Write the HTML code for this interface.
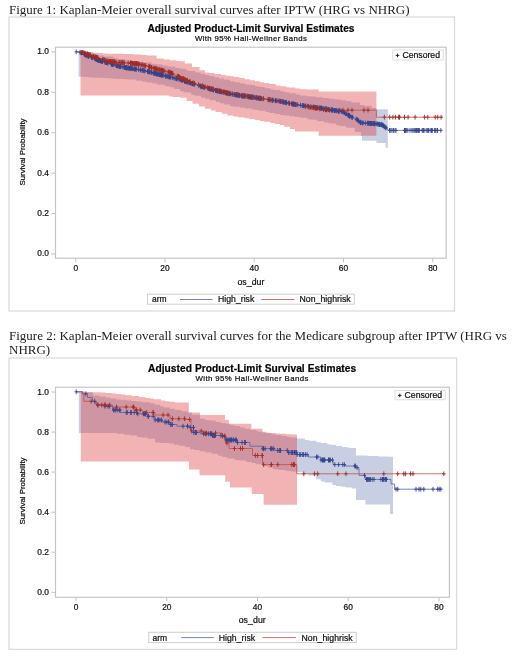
<!DOCTYPE html>
<html><head><meta charset="utf-8"><title>Kaplan-Meier figures</title>
<style>html,body{margin:0;padding:0;background:#fff}svg{display:block}.ch text{stroke:#111;stroke-width:0.22px}</style></head>
<body>
<svg width="520" height="659" viewBox="0 0 520 659">
<rect width="520" height="659" fill="#fff"/>
<text x="9" y="13.8" font-family='"Liberation Serif", "Times New Roman", serif' font-size="13" fill="#222" textLength="400.5" lengthAdjust="spacing">Figure 1: Kaplan-Meier overall survival curves after IPTW (HRG vs NHRG)</text>
<g class="ch"><rect x="9.0" y="17.0" width="445.5" height="294.0" fill="#fff" stroke="#dcdcdc" stroke-width="1.3"/>
<text x="147.5" y="32.0" font-family='"Liberation Sans", Arial, sans-serif' font-weight="bold" font-size="10.2" textLength="207.0" lengthAdjust="spacing" fill="#000">Adjusted Product-Limit Survival Estimates</text>
<text x="195.0" y="41.2" font-family='"Liberation Sans", Arial, sans-serif' font-size="7.8" textLength="111.8" lengthAdjust="spacing" fill="#111">With 95% Hall-Wellner Bands</text>
<clipPath id="c1"><rect x="55.5" y="47.2" width="390.6" height="211.0"/></clipPath>
<g clip-path="url(#c1)">
<polygon points="78.6,51.8 82.3,51.8 82.3,52.5 88.1,52.5 88.1,53.5 92.6,53.5 92.6,54.4 98.8,54.4 98.8,55.5 104.0,55.5 104.0,56.4 113.4,56.4 113.4,58.2 118.0,58.2 118.0,59.0 124.8,59.0 124.8,60.0 132.5,60.0 132.5,61.1 137.3,61.1 137.3,61.8 143.2,61.8 143.2,62.6 151.5,62.6 151.5,63.8 156.5,63.8 156.5,64.5 162.2,64.5 162.2,65.5 167.4,65.5 167.4,66.5 175.1,66.5 175.1,67.9 180.0,67.9 180.0,68.8 186.3,68.8 186.3,70.4 188.8,70.4 188.8,71.0 195.3,71.0 195.3,72.6 200.4,72.6 200.4,73.8 205.0,73.8 205.0,75.0 209.2,75.0 209.2,76.0 214.6,76.0 214.6,77.4 218.9,77.4 218.9,78.5 224.1,78.5 224.1,79.8 230.0,79.8 230.0,81.3 234.3,81.3 234.3,82.2 240.3,82.2 240.3,83.4 245.5,83.4 245.5,84.4 249.1,84.4 249.1,85.1 255.0,85.1 255.0,86.3 258.5,86.3 258.5,87.0 264.5,87.0 264.5,88.2 270.5,88.2 270.5,89.4 274.1,89.4 274.1,90.1 280.0,90.1 280.0,91.3 284.4,91.3 284.4,92.2 289.1,92.2 289.1,93.2 295.9,93.2 295.9,94.6 300.0,94.6 300.0,95.5 305.9,95.5 305.9,96.2 310.0,96.2 310.0,96.6 315.9,96.6 315.9,97.3 322.7,97.3 322.7,98.1 328.8,98.1 328.8,98.8 334.7,98.8 334.7,99.6 340.7,99.6 340.7,100.3 346.0,100.3 346.0,101.0 351.3,101.0 351.3,102.5 360.0,102.5 360.0,105.0 364.4,105.0 364.4,106.1 371.6,106.1 371.6,108.0 376.4,108.0 376.4,109.3 387.8,109.3 387.8,147.8 385.5,147.8 385.5,143.0 376.4,143.0 376.4,140.8 362.0,140.8 362.0,136.0 361.0,136.0 361.0,132.0 354.8,132.0 354.8,127.7 346.0,127.7 346.0,126.0 339.2,126.0 339.2,125.2 336.1,125.2 336.1,123.4 328.8,123.4 328.8,122.5 324.1,122.5 324.1,121.2 317.2,121.2 317.2,119.8 310.2,119.8 310.2,119.2 307.2,119.2 307.2,117.8 300.0,117.8 300.0,117.1 295.1,117.1 295.1,116.3 289.3,116.3 289.3,115.6 283.9,115.6 283.9,115.0 280.0,115.0 280.0,114.0 275.0,114.0 275.0,112.9 269.6,112.9 269.6,112.1 265.4,112.1 265.4,110.8 258.8,110.8 258.8,110.0 255.0,110.0 255.0,109.4 251.2,109.4 251.2,108.6 245.4,108.6 245.4,107.8 240.2,107.8 240.2,106.8 233.5,106.8 233.5,106.3 230.0,106.3 230.0,104.5 224.0,104.5 224.0,103.3 219.9,103.3 219.9,102.1 216.1,102.1 216.1,100.2 209.7,100.2 209.7,98.8 205.0,98.8 205.0,97.6 201.0,97.6 201.0,95.7 194.8,95.7 194.8,94.7 191.2,94.7 191.2,92.4 183.5,92.4 183.5,91.3 180.0,91.3 180.0,88.9 174.1,88.9 174.1,87.3 170.0,87.3 170.0,86.3 165.0,86.3 165.0,84.7 157.5,84.7 157.5,83.6 152.3,83.6 152.3,82.5 147.0,82.5 147.0,81.8 142.5,81.8 142.5,80.8 135.5,80.8 135.5,79.6 127.7,79.6 127.7,79.3 122.0,79.3 122.0,79.0 116.3,79.0 116.3,78.7 111.6,78.7 111.6,78.3 105.3,78.3 105.3,78.1 101.9,78.1 101.9,77.7 94.3,77.7 94.3,77.4 88.8,77.4 88.8,77.1 83.8,77.1 83.8,76.8 78.6,76.8" fill="rgba(68,90,160,0.29)"/>
<polygon points="80.5,51.8 84.8,51.8 84.8,52.1 93.2,52.1 93.2,52.7 98.9,52.7 98.9,53.1 102.8,53.1 102.8,53.4 108.5,53.4 108.5,53.8 113.2,53.8 113.2,53.8 122.9,53.8 122.9,54.0 127.7,54.0 127.7,54.0 133.7,54.0 133.7,54.5 142.1,54.5 142.1,55.1 147.0,55.1 147.0,55.5 156.5,55.5 156.5,58.4 163.7,58.4 163.7,59.4 170.0,59.4 170.0,60.3 176.0,60.3 176.0,60.9 180.0,60.9 180.0,61.3 184.8,61.3 184.8,63.6 192.0,63.6 192.0,67.0 199.6,67.0 199.6,70.2 205.0,70.2 205.0,72.5 209.2,72.5 209.2,73.1 214.7,73.1 214.7,74.0 221.0,74.0 221.0,74.9 226.0,74.9 226.0,75.7 230.0,75.7 230.0,76.3 234.0,76.3 234.0,77.1 239.2,77.1 239.2,78.1 244.7,78.1 244.7,79.2 250.1,79.2 250.1,80.3 255.0,80.3 255.0,81.3 259.7,81.3 259.7,82.2 263.9,82.2 263.9,83.1 269.2,83.1 269.2,84.1 275.7,84.1 275.7,85.4 280.0,85.4 280.0,86.3 286.2,86.3 286.2,87.2 288.6,87.2 288.6,87.6 295.2,87.6 295.2,88.5 300.0,88.5 300.0,89.2 307.2,89.2 307.2,89.4 310.7,89.4 310.7,89.4 318.7,89.4 318.7,89.6 318.7,91.6 376.4,91.6 376.4,135.8 318.7,135.8 318.7,131.5 295.0,131.5 295.0,129.0 290.0,129.0 290.0,126.7 284.2,126.7 284.2,125.0 280.0,125.0 280.0,124.0 275.0,124.0 275.0,123.1 270.4,123.1 270.4,121.7 263.6,121.7 263.6,121.0 259.8,121.0 259.8,120.0 255.0,120.0 255.0,119.1 249.3,119.1 249.3,118.3 244.5,118.3 244.5,117.3 238.3,117.3 238.3,116.4 233.3,116.4 233.3,115.5 227.5,115.5 227.5,113.7 221.6,113.7 221.6,112.0 215.6,112.0 215.6,110.6 211.1,110.6 211.1,108.8 205.0,108.8 205.0,106.4 198.9,106.4 198.9,103.8 192.5,103.8 192.5,101.0 186.6,101.0 186.6,97.8 180.0,97.8 180.0,96.9 172.6,96.9 172.6,96.4 169.2,96.4 169.2,95.5 162.0,95.5 80.5,95.5" fill="rgba(220,60,60,0.39)"/>
<polyline points="76.2,51.8 79.6,52.0 89.2,56.5 98.8,60.3 108.5,63.2 118.0,66.0 127.7,68.0 137.3,69.3 147.0,71.2 156.5,73.8 170.0,77.0 180.0,79.5 192.0,83.5 205.0,87.5 217.0,90.8 230.0,93.8 242.0,95.8 255.0,97.6 268.0,99.6 280.0,101.3 290.0,103.5 300.0,105.2 310.0,106.6 320.0,108.0 332.0,110.0 343.0,111.8 348.5,115.4 357.0,119.6 361.0,122.8 376.0,123.8 382.3,124.9 385.5,127.5 388.7,130.4 441.5,130.4" fill="none" stroke="#55659f" stroke-width="0.8"/>
<polyline points="76.2,51.8 80.5,52.0 89.2,54.6 98.8,58.4 108.5,61.3 118.0,62.4 127.7,63.0 137.3,63.8 147.0,66.0 156.5,69.0 170.0,72.4 180.0,77.5 192.0,82.5 205.0,86.8 217.0,90.2 230.0,93.4 242.0,95.4 255.0,97.3 268.0,99.4 280.0,101.1 290.0,103.3 300.0,105.4 310.0,107.2 320.0,109.0 328.8,110.2 376.4,110.2 376.4,117.2 442.8,117.2" fill="none" stroke="#b4564a" stroke-width="0.8"/>
<path d="M76.2 49.4V54.2M74.5 51.8H77.9M80.1 49.8V54.6M78.4 52.2H81.8M81.2 50.4V55.2M79.5 52.8H82.9M81.3 50.4V55.2M79.6 52.8H82.9M84.4 51.8V56.6M82.7 54.2H86.1M84.7 52.0V56.8M83.0 54.4H86.4M85.6 52.4V57.2M83.9 54.8H87.2M85.6 52.4V57.2M83.9 54.8H87.3M85.8 52.5V57.3M84.1 54.9H87.4M86.0 52.6V57.4M84.3 55.0H87.7M86.9 53.0V57.8M85.3 55.4H88.6M87.1 53.1V57.9M85.4 55.5H88.8M87.9 53.5V58.3M86.2 55.9H89.5M88.3 53.7V58.5M86.6 56.1H90.0M88.6 53.8V58.6M86.9 56.2H90.3M88.9 54.0V58.8M87.2 56.4H90.6M91.5 55.0V59.8M89.9 57.4H93.2M92.1 55.2V60.0M90.4 57.6H93.8M92.2 55.3V60.1M90.5 57.7H93.9M94.3 56.1V60.9M92.7 58.5H96.0M95.5 56.6V61.4M93.8 59.0H97.2M96.2 56.9V61.7M94.5 59.3H97.9M96.6 57.0V61.8M94.9 59.4H98.3M96.8 57.1V61.9M95.1 59.5H98.4M97.7 57.5V62.3M96.0 59.9H99.4M97.9 57.5V62.3M96.2 59.9H99.5M98.2 57.6V62.4M96.5 60.0H99.8M98.4 57.7V62.5M96.7 60.1H100.0M98.7 57.9V62.7M97.0 60.3H100.4M99.2 58.0V62.8M97.5 60.4H100.9M99.3 58.1V62.9M97.7 60.5H101.0M99.8 58.2V63.0M98.1 60.6H101.5M100.5 58.4V63.2M98.8 60.8H102.2M100.7 58.5V63.3M99.1 60.9H102.4M101.5 58.7V63.5M99.8 61.1H103.2M101.8 58.8V63.6M100.1 61.2H103.5M102.3 58.9V63.7M100.6 61.3H104.0M102.3 58.9V63.7M100.6 61.3H104.0M102.3 59.0V63.8M100.7 61.4H104.0M102.5 59.0V63.8M100.8 61.4H104.2M104.8 59.7V64.5M103.1 62.1H106.5M105.8 60.0V64.8M104.1 62.4H107.5M106.0 60.1V64.9M104.3 62.5H107.7M106.1 60.1V64.9M104.4 62.5H107.8M106.5 60.2V65.0M104.8 62.6H108.1M107.6 60.5V65.3M105.9 62.9H109.2M107.9 60.6V65.4M106.3 63.0H109.6M111.3 61.6V66.4M109.6 64.0H112.9M111.5 61.7V66.5M109.8 64.1H113.2M111.9 61.8V66.6M110.2 64.2H113.6M112.3 61.9V66.7M110.6 64.3H114.0M112.7 62.0V66.8M111.0 64.4H114.4M112.7 62.0V66.8M111.1 64.4H114.4M113.7 62.3V67.1M112.0 64.7H115.4M116.1 63.0V67.8M114.4 65.4H117.7M116.3 63.1V67.9M114.6 65.5H118.0M116.4 63.1V67.9M114.7 65.5H118.0M117.5 63.4V68.2M115.8 65.8H119.1M117.8 63.6V68.4M116.2 66.0H119.5M118.1 63.6V68.4M116.5 66.0H119.8M119.1 63.8V68.6M117.4 66.2H120.8M119.8 64.0V68.8M118.1 66.4H121.5M119.8 64.0V68.8M118.2 66.4H121.5M119.9 64.0V68.8M118.2 66.4H121.6M120.0 64.0V68.8M118.3 66.4H121.7M120.3 64.1V68.9M118.7 66.5H122.0M120.4 64.1V68.9M118.7 66.5H122.1M122.2 64.5V69.3M120.6 66.9H123.9M124.0 64.8V69.6M122.4 67.2H125.7M124.4 64.9V69.7M122.8 67.3H126.1M125.0 65.0V69.8M123.3 67.4H126.7M125.2 65.1V69.9M123.5 67.5H126.8M125.8 65.2V70.0M124.1 67.6H127.4M126.0 65.3V70.1M124.3 67.7H127.7M126.5 65.3V70.1M124.8 67.7H128.1M126.5 65.3V70.1M124.8 67.7H128.2M126.6 65.4V70.2M124.9 67.8H128.2M126.6 65.4V70.2M124.9 67.8H128.3M126.8 65.4V70.2M125.1 67.8H128.5M127.6 65.6V70.4M125.9 68.0H129.2M128.5 65.7V70.5M126.8 68.1H130.2M129.7 65.9V70.7M128.0 68.3H131.4M129.7 65.9V70.7M128.0 68.3H131.4M129.7 65.9V70.7M128.1 68.3H131.4M130.0 65.9V70.7M128.3 68.3H131.7M130.3 65.9V70.7M128.6 68.3H132.0M131.4 66.1V70.9M129.8 68.5H133.1M131.8 66.1V70.9M130.1 68.5H133.4M132.4 66.2V71.0M130.7 68.6H134.0M133.1 66.3V71.1M131.4 68.7H134.8M134.3 66.5V71.3M132.6 68.9H136.0M134.8 66.6V71.4M133.1 69.0H136.5M135.0 66.6V71.4M133.3 69.0H136.7M135.7 66.7V71.5M134.0 69.1H137.3M136.4 66.8V71.6M134.7 69.2H138.1M138.4 67.1V71.9M136.7 69.5H140.0M140.3 67.5V72.3M138.6 69.9H142.0M140.6 67.5V72.3M138.9 69.9H142.3M142.1 67.8V72.6M140.5 70.2H143.8M142.9 68.0V72.8M141.3 70.4H144.6M143.4 68.1V72.9M141.8 70.5H145.1M144.3 68.3V73.1M142.6 70.7H146.0M145.0 68.4V73.2M143.3 70.8H146.7M147.6 69.0V73.8M146.0 71.4H149.3M147.9 69.0V73.8M146.2 71.4H149.6M148.7 69.3V74.1M147.0 71.7H150.4M148.8 69.3V74.1M147.1 71.7H150.4M149.8 69.6V74.4M148.2 72.0H151.5M149.9 69.6V74.4M148.2 72.0H151.5M151.4 70.0V74.8M149.8 72.4H153.1M151.9 70.1V74.9M150.2 72.5H153.5M153.4 70.6V75.4M151.8 73.0H155.1M154.1 70.7V75.5M152.4 73.1H155.8M154.1 70.7V75.5M152.4 73.1H155.8M154.6 70.9V75.7M152.9 73.3H156.3M155.2 71.0V75.8M153.5 73.4H156.9M155.3 71.1V75.9M153.6 73.5H157.0M156.3 71.3V76.1M154.6 73.7H157.9M156.5 71.4V76.2M154.9 73.8H158.2M157.1 71.6V76.4M155.5 74.0H158.8M157.6 71.7V76.5M155.9 74.1H159.2M157.7 71.7V76.5M156.0 74.1H159.4M158.7 71.9V76.7M157.0 74.3H160.4M159.7 72.1V76.9M158.0 74.5H161.3M159.8 72.2V77.0M158.1 74.6H161.5M159.9 72.2V77.0M158.2 74.6H161.6M160.0 72.2V77.0M158.3 74.6H161.6M160.4 72.3V77.1M158.7 74.7H162.1M160.9 72.4V77.2M159.2 74.8H162.6M161.1 72.5V77.3M159.4 74.9H162.8M161.5 72.6V77.4M159.9 75.0H163.2M161.8 72.7V77.5M160.1 75.1H163.5M162.5 72.8V77.6M160.8 75.2H164.2M163.3 73.0V77.8M161.6 75.4H165.0M165.3 73.5V78.3M163.6 75.9H167.0M165.8 73.6V78.4M164.1 76.0H167.4M166.1 73.7V78.5M164.4 76.1H167.7M166.8 73.8V78.6M165.2 76.2H168.5M167.7 74.0V78.8M166.0 76.4H169.3M168.7 74.3V79.1M167.0 76.7H170.4M169.2 74.4V79.2M167.5 76.8H170.9M169.3 74.4V79.2M167.6 76.8H171.0M170.2 74.7V79.5M168.6 77.1H171.9M170.3 74.7V79.5M168.6 77.1H171.9M172.3 75.2V80.0M170.6 77.6H174.0M173.9 75.6V80.4M172.3 78.0H175.6M175.0 75.9V80.7M173.3 78.3H176.7M176.1 76.1V80.9M174.4 78.5H177.8M176.6 76.3V81.1M175.0 78.7H178.3M176.8 76.3V81.1M175.1 78.7H178.4M178.1 76.6V81.4M176.4 79.0H179.8M179.7 77.0V81.8M178.1 79.4H181.4M180.4 77.2V82.0M178.7 79.6H182.1M181.5 77.6V82.4M179.9 80.0H183.2M182.1 77.8V82.6M180.4 80.2H183.8M182.4 77.9V82.7M180.7 80.3H184.1M184.4 78.6V83.4M182.8 81.0H186.1M184.5 78.6V83.4M182.8 81.0H186.1M184.7 78.7V83.5M183.1 81.1H186.4M185.5 78.9V83.7M183.9 81.3H187.2M185.6 79.0V83.8M183.9 81.4H187.2M186.9 79.4V84.2M185.2 81.8H188.6M187.0 79.4V84.2M185.3 81.8H188.7M187.0 79.4V84.2M185.4 81.8H188.7M187.9 79.7V84.5M186.2 82.1H189.6M189.0 80.1V84.9M187.3 82.5H190.6M189.5 80.3V85.1M187.8 82.7H191.2M190.5 80.6V85.4M188.8 83.0H192.2M192.0 81.1V85.9M190.3 83.5H193.7M192.2 81.1V85.9M190.5 83.5H193.8M192.3 81.2V86.0M190.6 83.6H194.0M192.6 81.3V86.1M191.0 83.7H194.3M192.9 81.4V86.2M191.3 83.8H194.6M193.7 81.6V86.4M192.1 84.0H195.4M194.7 81.9V86.7M193.0 84.3H196.4M198.8 83.2V88.0M197.1 85.6H200.5M200.4 83.7V88.5M198.7 86.1H202.1M200.9 83.8V88.6M199.2 86.2H202.5M201.1 83.9V88.7M199.4 86.3H202.8M201.9 84.2V89.0M200.2 86.6H203.6M202.2 84.2V89.0M200.5 86.6H203.9M202.7 84.4V89.2M201.0 86.8H204.3M202.9 84.4V89.2M201.2 86.8H204.6M203.6 84.7V89.5M201.9 87.1H205.3M204.6 85.0V89.8M203.0 87.4H206.3M207.9 85.9V90.7M206.2 88.3H209.6M208.8 86.1V90.9M207.1 88.5H210.5M209.0 86.2V91.0M207.4 88.6H210.7M209.1 86.2V91.0M207.4 88.6H210.7M209.6 86.4V91.2M207.9 88.8H211.2M210.1 86.5V91.3M208.4 88.9H211.7M210.8 86.7V91.5M209.1 89.1H212.4M211.0 86.7V91.5M209.3 89.1H212.7M211.7 86.9V91.7M210.0 89.3H213.4M212.9 87.3V92.1M211.2 89.7H214.6M213.1 87.3V92.1M211.4 89.7H214.8M213.6 87.5V92.3M211.9 89.9H215.2M213.6 87.5V92.3M211.9 89.9H215.3M215.6 88.0V92.8M213.9 90.4H217.2M215.7 88.0V92.8M214.0 90.4H217.3M216.2 88.2V93.0M214.5 90.6H217.9M216.5 88.3V93.1M214.8 90.7H218.2M217.3 88.5V93.3M215.6 90.9H219.0M217.7 88.6V93.4M216.1 91.0H219.4M218.3 88.7V93.5M216.7 91.1H220.0M219.3 88.9V93.7M217.6 91.3H221.0M219.6 89.0V93.8M217.9 91.4H221.3M219.8 89.0V93.8M218.1 91.4H221.4M220.5 89.2V94.0M218.8 91.6H222.2M221.1 89.3V94.1M219.4 91.7H222.8M221.5 89.4V94.2M219.8 91.8H223.2M222.2 89.6V94.4M220.5 92.0H223.9M223.5 89.9V94.7M221.8 92.3H225.2M225.8 90.4V95.2M224.2 92.8H227.5M226.0 90.5V95.3M224.3 92.9H227.7M226.2 90.5V95.3M224.5 92.9H227.9M227.2 90.8V95.6M225.6 93.2H228.9M227.2 90.8V95.6M225.6 93.2H228.9M227.7 90.9V95.7M226.0 93.3H229.4M229.0 91.2V96.0M227.3 93.6H230.7M229.4 91.3V96.1M227.7 93.7H231.0M230.1 91.4V96.2M228.4 93.8H231.8M230.6 91.5V96.3M228.9 93.9H232.3M232.5 91.8V96.6M230.8 94.2H234.1M234.0 92.1V96.9M232.3 94.5H235.7M234.5 92.2V97.0M232.8 94.6H236.2M235.7 92.4V97.2M234.0 94.8H237.4M236.1 92.4V97.2M234.4 94.8H237.7M236.3 92.4V97.2M234.6 94.8H238.0M236.4 92.5V97.3M234.7 94.9H238.1M237.7 92.7V97.5M236.1 95.1H239.4M237.8 92.7V97.5M236.1 95.1H239.5M238.8 92.9V97.7M237.1 95.3H240.5M238.8 92.9V97.7M237.1 95.3H240.5M239.4 93.0V97.8M237.8 95.4H241.1M239.7 93.0V97.8M238.0 95.4H241.3M241.2 93.3V98.1M239.6 95.7H242.9M241.8 93.4V98.2M240.1 95.8H243.4M242.2 93.4V98.2M240.5 95.8H243.9M242.3 93.4V98.2M240.6 95.8H244.0M242.7 93.5V98.3M241.0 95.9H244.3M242.7 93.5V98.3M241.0 95.9H244.4M243.8 93.6V98.4M242.1 96.0H245.5M244.0 93.7V98.5M242.4 96.1H245.7M244.3 93.7V98.5M242.6 96.1H245.9M245.1 93.8V98.6M243.4 96.2H246.7M247.3 94.1V98.9M245.6 96.5H249.0M248.5 94.3V99.1M246.8 96.7H250.2M248.7 94.3V99.1M247.0 96.7H250.4M249.0 94.4V99.2M247.3 96.8H250.7M249.2 94.4V99.2M247.5 96.8H250.9M249.7 94.5V99.3M248.0 96.9H251.4M250.3 94.6V99.4M248.7 97.0H252.0M250.6 94.6V99.4M249.0 97.0H252.3M251.1 94.7V99.5M249.4 97.1H252.8M251.4 94.7V99.5M249.7 97.1H253.1M252.3 94.8V99.6M250.7 97.2H254.0M252.6 94.9V99.7M250.9 97.3H254.3M253.0 94.9V99.7M251.3 97.3H254.7M254.4 95.1V99.9M252.8 97.5H256.1M255.7 95.3V100.1M254.1 97.7H257.4M256.5 95.4V100.2M254.8 97.8H258.2M256.9 95.5V100.3M255.2 97.9H258.6M257.7 95.6V100.4M256.1 98.0H259.4M258.6 95.8V100.6M256.9 98.2H260.3M259.1 95.8V100.6M257.5 98.2H260.8M259.7 95.9V100.7M258.0 98.3H261.4M260.4 96.0V100.8M258.7 98.4H262.0M260.6 96.1V100.9M258.9 98.5H262.3M261.5 96.2V101.0M259.8 98.6H263.1M263.1 96.4V101.2M261.4 98.8H264.7M268.7 97.3V102.1M267.0 99.7H270.3M269.1 97.4V102.2M267.5 99.8H270.8M270.2 97.5V102.3M268.5 99.9H271.9M272.2 97.8V102.6M270.5 100.2H273.8M272.2 97.8V102.6M270.5 100.2H273.9M273.2 97.9V102.7M271.6 100.3H274.9M275.4 98.2V103.0M273.7 100.6H277.0M275.4 98.2V103.0M273.7 100.6H277.1M275.9 98.3V103.1M274.2 100.7H277.6M276.8 98.4V103.2M275.1 100.8H278.5M279.3 98.8V103.6M277.6 101.2H281.0M280.1 98.9V103.7M278.4 101.3H281.8M280.5 99.0V103.8M278.8 101.4H282.2M281.1 99.1V103.9M279.4 101.5H282.8M282.4 99.4V104.2M280.8 101.8H284.1M283.4 99.6V104.4M281.7 102.0H285.0M283.5 99.7V104.5M281.8 102.1H285.1M284.6 99.9V104.7M282.9 102.3H286.2M285.8 100.2V105.0M284.1 102.6H287.5M285.9 100.2V105.0M284.3 102.6H287.6M286.2 100.3V105.1M284.5 102.7H287.9M286.5 100.3V105.1M284.8 102.7H288.2M288.3 100.7V105.5M286.6 103.1H289.9M289.6 101.0V105.8M287.9 103.4H291.2M291.8 101.4V106.2M290.1 103.8H293.5M292.0 101.4V106.2M290.3 103.8H293.6M292.7 101.6V106.4M291.0 104.0H294.4M293.3 101.7V106.5M291.6 104.1H295.0M293.4 101.7V106.5M291.7 104.1H295.0M294.2 101.8V106.6M292.5 104.2H295.8M294.4 101.9V106.7M292.7 104.3H296.1M295.3 102.0V106.8M293.6 104.4H297.0M295.4 102.0V106.8M293.7 104.4H297.0M295.7 102.1V106.9M294.0 104.5H297.4M296.1 102.1V106.9M294.4 104.5H297.7M297.7 102.4V107.2M296.0 104.8H299.4M300.6 102.9V107.7M298.9 105.3H302.2M302.4 103.1V107.9M300.7 105.5H304.1M303.2 103.3V108.1M301.6 105.7H304.9M303.4 103.3V108.1M301.7 105.7H305.0M304.7 103.5V108.3M303.0 105.9H306.3M305.8 103.6V108.4M304.1 106.0H307.5M307.9 103.9V108.7M306.2 106.3H309.6M308.2 103.9V108.7M306.5 106.3H309.9M311.0 104.3V109.1M309.4 106.7H312.7M313.2 104.6V109.4M311.5 107.0H314.9M313.9 104.7V109.5M312.2 107.1H315.6M314.1 104.8V109.6M312.4 107.2H315.8M315.5 105.0V109.8M313.8 107.4H317.2M316.6 105.1V109.9M314.9 107.5H318.3M317.8 105.3V110.1M316.1 107.7H319.4M317.9 105.3V110.1M316.2 107.7H319.5M319.9 105.6V110.4M318.3 108.0H321.6M319.9 105.6V110.4M318.3 108.0H321.6M320.2 105.6V110.4M318.6 108.0H321.9M320.9 105.8V110.6M319.3 108.2H322.6M321.5 105.8V110.6M319.8 108.2H323.1M321.6 105.9V110.7M319.9 108.3H323.2M322.8 106.1V110.9M321.1 108.5H324.5M323.1 106.1V110.9M321.4 108.5H324.7M324.7 106.4V111.2M323.0 108.8H326.3M325.7 106.6V111.4M324.1 109.0H327.4M326.1 106.6V111.4M324.5 109.0H327.8M326.3 106.6V111.4M324.6 109.0H328.0M326.7 106.7V111.5M325.0 109.1H328.3M326.9 106.8V111.6M325.2 109.2H328.6M328.3 107.0V111.8M326.6 109.4H330.0M328.4 107.0V111.8M326.7 109.4H330.1M329.9 107.3V112.1M328.3 109.7H331.6M331.4 107.5V112.3M329.7 109.9H333.0M332.0 107.6V112.4M330.4 110.0H333.7M332.2 107.6V112.4M330.5 110.0H333.9M332.2 107.6V112.4M330.6 110.0H333.9M332.3 107.7V112.5M330.7 110.1H334.0M333.2 107.8V112.6M331.5 110.2H334.8M334.5 108.0V112.8M332.8 110.4H336.1M334.6 108.0V112.8M332.9 110.4H336.2M334.7 108.0V112.8M333.0 110.4H336.4M335.3 108.1V112.9M333.6 110.5H337.0M336.3 108.3V113.1M334.7 110.7H338.0M336.4 108.3V113.1M334.7 110.7H338.1M337.1 108.4V113.2M335.4 110.8H338.7M338.7 108.7V113.5M337.0 111.1H340.4M338.7 108.7V113.5M337.0 111.1H340.4M338.9 108.7V113.5M337.2 111.1H340.5M339.1 108.8V113.6M337.4 111.2H340.8M341.5 109.2V114.0M339.8 111.6H343.2M342.6 109.3V114.1M340.9 111.7H344.3M343.7 109.9V114.7M342.0 112.3H345.4M344.4 110.3V115.1M342.7 112.7H346.1M345.7 111.2V116.0M344.1 113.6H347.4M345.9 111.3V116.1M344.2 113.7H347.6M346.1 111.4V116.2M344.4 113.8H347.8M348.1 112.8V117.6M346.4 115.2H349.8M348.4 112.9V117.7M346.7 115.3H350.1M348.5 113.0V117.8M346.8 115.4H350.2M349.3 113.4V118.2M347.6 115.8H351.0M349.4 113.4V118.2M347.7 115.8H351.0M349.5 113.5V118.3M347.9 115.9H351.2M349.6 113.6V118.4M348.0 116.0H351.3M350.0 113.7V118.5M348.3 116.1H351.7M351.9 114.7V119.5M350.2 117.1H353.6M352.1 114.8V119.6M350.4 117.2H353.8M352.3 114.9V119.7M350.7 117.3H354.0M356.3 116.8V121.6M354.6 119.2H358.0M357.1 117.2V122.0M355.4 119.6H358.7M357.3 117.4V122.2M355.6 119.8H359.0M358.5 118.4V123.2M356.8 120.8H360.2M358.7 118.6V123.4M357.0 121.0H360.4M360.2 119.8V124.6M358.5 122.2H361.9M360.3 119.8V124.6M358.6 122.2H362.0M360.7 120.2V125.0M359.0 122.6H362.4M361.0 120.4V125.2M359.4 122.8H362.7M362.7 120.5V125.3M361.0 122.9H364.3M363.1 120.5V125.3M361.4 122.9H364.8M365.4 120.7V125.5M363.7 123.1H367.1M367.6 120.8V125.6M365.9 123.2H369.2M367.9 120.9V125.7M366.2 123.3H369.5M368.6 120.9V125.7M366.9 123.3H370.3M369.0 120.9V125.7M367.3 123.3H370.7M370.0 121.0V125.8M368.3 123.4H371.7M370.2 121.0V125.8M368.5 123.4H371.9M370.5 121.0V125.8M368.8 123.4H372.2M371.0 121.1V125.9M369.3 123.5H372.6M371.6 121.1V125.9M369.9 123.5H373.3M371.9 121.1V125.9M370.2 123.5H373.6M372.9 121.2V126.0M371.2 123.6H374.6M373.4 121.2V126.0M371.7 123.6H375.1M373.6 121.2V126.0M371.9 123.6H375.2M374.1 121.3V126.1M372.5 123.7H375.8M374.6 121.3V126.1M372.9 123.7H376.3M375.0 121.3V126.1M373.3 123.7H376.7M376.2 121.4V126.2M374.6 123.8H377.9M377.4 121.6V126.4M375.7 124.0H379.1M378.0 121.7V126.5M376.3 124.1H379.7M379.0 121.9V126.7M377.4 124.3H380.7M379.3 122.0V126.8M377.6 124.4H381.0M379.3 122.0V126.8M377.6 124.4H381.0M379.6 122.0V126.8M377.9 124.4H381.2M380.7 122.2V127.0M379.0 124.6H382.4M381.4 122.3V127.1M379.7 124.7H383.1M381.9 122.4V127.2M380.2 124.8H383.6M381.9 122.4V127.2M380.3 124.8H383.6M382.6 122.7V127.5M380.9 125.1H384.3M383.4 123.4V128.2M381.7 125.8H385.0M383.4 123.4V128.2M381.7 125.8H385.1M384.3 124.1V128.9M382.6 126.5H386.0M384.9 124.6V129.4M383.2 127.0H386.6M385.9 125.4V130.2M384.2 127.8H387.6M385.9 125.4V130.2M384.2 127.8H387.6M389.5 128.0V132.8M387.8 130.4H391.2M390.8 128.0V132.8M389.1 130.4H392.5M392.0 128.0V132.8M390.3 130.4H393.7M393.5 128.0V132.8M391.8 130.4H395.2M395.0 128.0V132.8M393.3 130.4H396.7M396.0 128.0V132.8M394.3 130.4H397.7M404.5 128.0V132.8M402.9 130.4H406.2M404.7 128.0V132.8M403.0 130.4H406.4M405.3 128.0V132.8M403.7 130.4H407.0M406.0 128.0V132.8M404.4 130.4H407.7M406.1 128.0V132.8M404.4 130.4H407.8M407.8 128.0V132.8M406.1 130.4H409.5M410.0 128.0V132.8M408.4 130.4H411.7M411.9 128.0V132.8M410.3 130.4H413.6M413.1 128.0V132.8M411.4 130.4H414.8M414.3 128.0V132.8M412.6 130.4H416.0M415.8 128.0V132.8M414.1 130.4H417.4M416.0 128.0V132.8M414.3 130.4H417.6M416.6 128.0V132.8M414.9 130.4H418.2M417.7 128.0V132.8M416.0 130.4H419.4M418.6 128.0V132.8M416.9 130.4H420.3M418.9 128.0V132.8M417.2 130.4H420.6M419.3 128.0V132.8M417.6 130.4H421.0M422.1 128.0V132.8M420.4 130.4H423.7M423.1 128.0V132.8M421.4 130.4H424.8M423.2 128.0V132.8M421.5 130.4H424.9M424.1 128.0V132.8M422.4 130.4H425.8M426.2 128.0V132.8M424.5 130.4H427.8M427.7 128.0V132.8M426.0 130.4H429.4M428.3 128.0V132.8M426.6 130.4H430.0M428.8 128.0V132.8M427.1 130.4H430.5M431.0 128.0V132.8M429.3 130.4H432.7M431.3 128.0V132.8M429.6 130.4H433.0M431.7 128.0V132.8M430.0 130.4H433.3M432.3 128.0V132.8M430.6 130.4H434.0M434.6 128.0V132.8M432.9 130.4H436.2M435.4 128.0V132.8M433.7 130.4H437.1M437.0 128.0V132.8M435.3 130.4H438.7M437.5 128.0V132.8M435.8 130.4H439.2M440.9 128.0V132.8M439.3 130.4H442.6" stroke="#34458c" stroke-width="0.9" fill="none"/>
<path d="M82.2 50.1V54.9M80.5 52.5H83.9M82.4 50.2V55.0M80.7 52.6H84.0M82.4 50.2V55.0M80.7 52.6H84.1M83.3 50.5V55.3M81.7 52.9H85.0M83.9 50.6V55.4M82.2 53.0H85.6M84.7 50.8V55.6M83.0 53.2H86.4M85.4 51.1V55.9M83.7 53.5H87.0M87.2 51.6V56.4M85.5 54.0H88.9M87.3 51.6V56.4M85.6 54.0H89.0M87.3 51.6V56.4M85.7 54.0H89.0M88.6 52.0V56.8M86.9 54.4H90.2M89.1 52.2V57.0M87.5 54.6H90.8M90.0 52.5V57.3M88.4 54.9H91.7M90.4 52.7V57.5M88.7 55.1H92.0M93.0 53.7V58.5M91.3 56.1H94.7M93.3 53.8V58.6M91.7 56.2H95.0M94.8 54.4V59.2M93.1 56.8H96.5M95.0 54.5V59.3M93.3 56.9H96.6M95.7 54.8V59.6M94.1 57.2H97.4M96.3 55.0V59.8M94.6 57.4H98.0M96.4 55.0V59.8M94.7 57.4H98.1M97.0 55.3V60.1M95.4 57.7H98.7M97.2 55.4V60.2M95.5 57.8H98.9M97.3 55.4V60.2M95.6 57.8H99.0M97.9 55.7V60.5M96.2 58.1H99.6M102.5 57.1V61.9M100.8 59.5H104.2M103.5 57.4V62.2M101.8 59.8H105.2M104.2 57.6V62.4M102.5 60.0H105.8M104.7 57.8V62.6M103.0 60.2H106.3M104.8 57.8V62.6M103.1 60.2H106.4M106.8 58.4V63.2M105.2 60.8H108.5M107.0 58.4V63.2M105.3 60.8H108.7M108.9 58.9V63.7M107.2 61.3H110.6M109.2 59.0V63.8M107.6 61.4H110.9M109.4 59.0V63.8M107.7 61.4H111.1M110.7 59.2V64.0M109.0 61.6H112.4M110.7 59.2V64.0M109.0 61.6H112.4M111.0 59.2V64.0M109.3 61.6H112.7M111.0 59.2V64.0M109.3 61.6H112.7M111.7 59.3V64.1M110.0 61.7H113.4M112.8 59.4V64.2M111.2 61.8H114.5M112.9 59.4V64.2M111.2 61.8H114.6M113.3 59.5V64.3M111.6 61.9H115.0M113.4 59.5V64.3M111.7 61.9H115.1M114.2 59.6V64.4M112.5 62.0H115.8M114.6 59.6V64.4M112.9 62.0H116.3M114.9 59.6V64.4M113.2 62.0H116.6M116.1 59.8V64.6M114.5 62.2H117.8M119.1 60.1V64.9M117.4 62.5H120.8M119.1 60.1V64.9M117.5 62.5H120.8M121.0 60.2V65.0M119.3 62.6H122.6M121.0 60.2V65.0M119.3 62.6H122.6M122.2 60.3V65.1M120.5 62.7H123.9M122.3 60.3V65.1M120.6 62.7H124.0M123.3 60.3V65.1M121.6 62.7H125.0M124.4 60.4V65.2M122.8 62.8H126.1M128.2 60.6V65.4M126.5 63.0H129.9M130.5 60.8V65.6M128.9 63.2H132.2M130.7 60.8V65.6M129.0 63.2H132.4M130.7 60.8V65.6M129.0 63.2H132.4M131.6 60.9V65.7M129.9 63.3H133.2M132.2 61.0V65.8M130.5 63.4H133.9M132.4 61.0V65.8M130.7 63.4H134.0M133.0 61.0V65.8M131.3 63.4H134.7M133.7 61.1V65.9M132.1 63.5H135.4M134.5 61.2V66.0M132.8 63.6H136.2M134.8 61.2V66.0M133.2 63.6H136.5M135.1 61.2V66.0M133.4 63.6H136.8M135.3 61.2V66.0M133.7 63.6H137.0M136.3 61.3V66.1M134.6 63.7H138.0M136.5 61.3V66.1M134.8 63.7H138.2M136.9 61.4V66.2M135.3 63.8H138.6M137.2 61.4V66.2M135.5 63.8H138.9M137.8 61.5V66.3M136.1 63.9H139.5M138.6 61.7V66.5M136.9 64.1H140.2M138.6 61.7V66.5M136.9 64.1H140.3M139.8 62.0V66.8M138.1 64.4H141.5M141.3 62.3V67.1M139.6 64.7H143.0M142.3 62.5V67.3M140.6 64.9H144.0M143.3 62.8V67.6M141.6 65.2H145.0M144.8 63.1V67.9M143.1 65.5H146.5M145.1 63.2V68.0M143.4 65.6H146.8M145.6 63.3V68.1M144.0 65.7H147.3M148.6 64.1V68.9M147.0 66.5H150.3M149.6 64.4V69.2M148.0 66.8H151.3M149.8 64.5V69.3M148.1 66.9H151.5M150.1 64.6V69.4M148.5 67.0H151.8M151.4 65.0V69.8M149.7 67.4H153.1M151.6 65.1V69.9M149.9 67.5H153.3M153.2 65.6V70.4M151.5 68.0H154.9M154.6 66.0V70.8M152.9 68.4H156.3M155.0 66.1V70.9M153.3 68.5H156.7M155.5 66.3V71.1M153.8 68.7H157.2M155.8 66.4V71.2M154.1 68.8H157.4M155.8 66.4V71.2M154.2 68.8H157.5M156.8 66.7V71.5M155.1 69.1H158.4M156.9 66.7V71.5M155.2 69.1H158.6M158.0 67.0V71.8M156.3 69.4H159.6M159.0 67.2V72.0M157.3 69.6H160.7M159.7 67.4V72.2M158.0 69.8H161.4M160.8 67.7V72.5M159.1 70.1H162.4M161.1 67.8V72.6M159.4 70.2H162.8M161.6 67.9V72.7M159.9 70.3H163.3M161.8 67.9V72.7M160.1 70.3H163.5M161.9 68.0V72.8M160.2 70.4H163.6M162.3 68.1V72.9M160.6 70.5H163.9M162.8 68.2V73.0M161.1 70.6H164.5M163.1 68.3V73.1M161.4 70.7H164.8M163.3 68.3V73.1M161.6 70.7H165.0M164.8 68.7V73.5M163.2 71.1H166.5M168.2 69.5V74.3M166.5 71.9H169.8M168.9 69.7V74.5M167.2 72.1H170.6M169.7 69.9V74.7M168.0 72.3H171.4M170.5 70.3V75.1M168.9 72.7H172.2M170.6 70.3V75.1M168.9 72.7H172.3M171.3 70.6V75.4M169.6 73.0H172.9M172.1 71.1V75.9M170.5 73.5H173.8M172.2 71.1V75.9M170.5 73.5H173.9M172.3 71.2V76.0M170.6 73.6H173.9M172.6 71.3V76.1M170.9 73.7H174.3M172.7 71.4V76.2M171.1 73.8H174.4M177.5 73.8V78.6M175.8 76.2H179.2M177.8 74.0V78.8M176.1 76.4H179.5M178.4 74.3V79.1M176.7 76.7H180.1M178.5 74.3V79.1M176.8 76.7H180.2M179.0 74.6V79.4M177.3 77.0H180.6M179.4 74.8V79.6M177.7 77.2H181.0M180.6 75.4V80.2M179.0 77.8H182.3M182.1 76.0V80.8M180.4 78.4H183.7M182.1 76.0V80.8M180.4 78.4H183.8M183.0 76.4V81.2M181.4 78.8H184.7M183.1 76.4V81.2M181.4 78.8H184.8M183.6 76.6V81.4M181.9 79.0H185.3M184.1 76.8V81.6M182.4 79.2H185.8M184.9 77.1V81.9M183.2 79.5H186.6M185.3 77.3V82.1M183.6 79.7H186.9M186.6 77.8V82.6M184.9 80.2H188.2M187.4 78.2V83.0M185.7 80.6H189.1M187.6 78.3V83.1M186.0 80.7H189.3M189.9 79.2V84.0M188.2 81.6H191.5M190.0 79.3V84.1M188.3 81.7H191.7M193.1 80.4V85.2M191.4 82.8H194.7M194.5 80.9V85.7M192.8 83.3H196.2M198.7 82.3V87.1M197.0 84.7H200.4M202.7 83.6V88.4M201.0 86.0H204.4M202.8 83.7V88.5M201.1 86.1H204.4M205.3 84.5V89.3M203.6 86.9H206.9M207.6 85.1V89.9M205.9 87.5H209.3M209.5 85.7V90.5M207.9 88.1H211.2M211.6 86.3V91.1M209.9 88.7H213.3M212.6 86.6V91.4M211.0 89.0H214.3M213.4 86.8V91.6M211.7 89.2H215.1M216.9 87.8V92.6M215.3 90.2H218.6M219.1 88.3V93.1M217.4 90.7H220.8M220.2 88.6V93.4M218.6 91.0H221.9M220.8 88.7V93.5M219.1 91.1H222.5M223.5 89.4V94.2M221.8 91.8H225.2M224.8 89.7V94.5M223.1 92.1H226.5M224.8 89.7V94.5M223.1 92.1H226.5M226.2 90.1V94.9M224.5 92.5H227.9M226.4 90.1V94.9M224.7 92.5H228.1M227.9 90.5V95.3M226.3 92.9H229.6M228.9 90.7V95.5M227.2 93.1H230.5M232.1 91.4V96.2M230.4 93.8H233.8M237.3 92.2V97.0M235.7 94.6H239.0M237.9 92.3V97.1M236.2 94.7H239.6M242.8 93.1V97.9M241.1 95.5H244.4M244.8 93.4V98.2M243.1 95.8H246.5M245.2 93.5V98.3M243.5 95.9H246.9M246.0 93.6V98.4M244.3 96.0H247.6M247.8 93.8V98.6M246.1 96.2H249.5M247.9 93.9V98.7M246.3 96.3H249.6M252.4 94.5V99.3M250.7 96.9H254.1M253.0 94.6V99.4M251.3 97.0H254.7M256.3 95.1V99.9M254.6 97.5H257.9M259.6 95.6V100.4M257.9 98.0H261.3M260.5 95.8V100.6M258.8 98.2H262.2M263.4 96.3V101.1M261.7 98.7H265.1M268.0 97.0V101.8M266.3 99.4H269.7M269.7 97.2V102.0M268.1 99.6H271.4M272.2 97.6V102.4M270.5 100.0H273.9M278.1 98.4V103.2M276.5 100.8H279.8M281.8 99.1V103.9M280.2 101.5H283.5M289.3 100.8V105.6M287.7 103.2H291.0M295.0 101.9V106.7M293.3 104.3H296.6M305.6 104.0V108.8M303.9 106.4H307.3M308.8 104.6V109.4M307.1 107.0H310.5M309.8 104.8V109.6M308.1 107.2H311.4M310.8 104.9V109.7M309.1 107.3H312.5M312.2 105.2V110.0M310.5 107.6H313.9M314.2 105.6V110.4M312.5 108.0H315.9M315.4 105.8V110.6M313.7 108.2H317.1M316.8 106.0V110.8M315.2 108.4H318.5M316.9 106.0V110.8M315.2 108.4H318.6M319.8 106.6V111.4M318.1 109.0H321.4M323.6 107.1V111.9M321.9 109.5H325.2M325.5 107.3V112.1M323.8 109.7H327.2M326.1 107.4V112.2M324.4 109.8H327.8M326.7 107.5V112.3M325.0 109.9H328.4M329.5 107.8V112.6M327.8 110.2H331.2M340.0 107.8V112.6M338.3 110.2H341.7M343.0 107.8V112.6M341.3 110.2H344.7M348.0 107.8V112.6M346.3 110.2H349.7M352.0 107.8V112.6M350.3 110.2H353.7M364.0 107.8V112.6M362.3 110.2H365.7M368.0 107.8V112.6M366.3 110.2H369.7M384.4 114.8V119.6M382.7 117.2H386.1M389.7 114.8V119.6M388.0 117.2H391.4M392.9 114.8V119.6M391.2 117.2H394.6M395.4 114.8V119.6M393.7 117.2H397.1M398.8 114.8V119.6M397.1 117.2H400.5M399.2 114.8V119.6M397.5 117.2H400.9M399.6 114.8V119.6M397.9 117.2H401.3M404.5 114.8V119.6M402.8 117.2H406.2M408.1 114.8V119.6M406.4 117.2H409.8M415.1 114.8V119.6M413.4 117.2H416.8M424.6 114.8V119.6M422.9 117.2H426.3M427.8 114.8V119.6M426.1 117.2H429.5M435.2 114.8V119.6M433.5 117.2H436.9M437.7 114.8V119.6M436.0 117.2H439.4M441.1 114.8V119.6M439.4 117.2H442.8" stroke="#a02c26" stroke-width="0.9" fill="none"/>
</g>
<rect x="55.5" y="47.2" width="390.6" height="211.0" fill="none" stroke="#c4c4c4" stroke-width="1.15"/>
<line x1="51.5" x2="55.5" y1="253.9" y2="253.9" stroke="#c2c2c2" stroke-width="1"/>
<text x="48.9" y="256.4" text-anchor="end" font-family='"Liberation Sans", Arial, sans-serif' font-size="8.4" fill="#111">0.0</text>
<line x1="51.5" x2="55.5" y1="213.5" y2="213.5" stroke="#c2c2c2" stroke-width="1"/>
<text x="48.9" y="216.0" text-anchor="end" font-family='"Liberation Sans", Arial, sans-serif' font-size="8.4" fill="#111">0.2</text>
<line x1="51.5" x2="55.5" y1="173.1" y2="173.1" stroke="#c2c2c2" stroke-width="1"/>
<text x="48.9" y="175.6" text-anchor="end" font-family='"Liberation Sans", Arial, sans-serif' font-size="8.4" fill="#111">0.4</text>
<line x1="51.5" x2="55.5" y1="132.7" y2="132.7" stroke="#c2c2c2" stroke-width="1"/>
<text x="48.9" y="135.2" text-anchor="end" font-family='"Liberation Sans", Arial, sans-serif' font-size="8.4" fill="#111">0.6</text>
<line x1="51.5" x2="55.5" y1="92.3" y2="92.3" stroke="#c2c2c2" stroke-width="1"/>
<text x="48.9" y="94.8" text-anchor="end" font-family='"Liberation Sans", Arial, sans-serif' font-size="8.4" fill="#111">0.8</text>
<line x1="51.5" x2="55.5" y1="51.9" y2="51.9" stroke="#c2c2c2" stroke-width="1"/>
<text x="48.9" y="54.4" text-anchor="end" font-family='"Liberation Sans", Arial, sans-serif' font-size="8.4" fill="#111">1.0</text>
<line x1="75.8" x2="75.8" y1="258.2" y2="262.2" stroke="#c2c2c2" stroke-width="1"/>
<text x="75.8" y="271.4" text-anchor="middle" font-family='"Liberation Sans", Arial, sans-serif' font-size="8.4" fill="#111">0</text>
<line x1="165.0" x2="165.0" y1="258.2" y2="262.2" stroke="#c2c2c2" stroke-width="1"/>
<text x="165.0" y="271.4" text-anchor="middle" font-family='"Liberation Sans", Arial, sans-serif' font-size="8.4" fill="#111">20</text>
<line x1="254.2" x2="254.2" y1="258.2" y2="262.2" stroke="#c2c2c2" stroke-width="1"/>
<text x="254.2" y="271.4" text-anchor="middle" font-family='"Liberation Sans", Arial, sans-serif' font-size="8.4" fill="#111">40</text>
<line x1="343.5" x2="343.5" y1="258.2" y2="262.2" stroke="#c2c2c2" stroke-width="1"/>
<text x="343.5" y="271.4" text-anchor="middle" font-family='"Liberation Sans", Arial, sans-serif' font-size="8.4" fill="#111">60</text>
<line x1="432.8" x2="432.8" y1="258.2" y2="262.2" stroke="#c2c2c2" stroke-width="1"/>
<text x="432.8" y="271.4" text-anchor="middle" font-family='"Liberation Sans", Arial, sans-serif' font-size="8.4" fill="#111">80</text>
<text transform="translate(24.7 152.0) rotate(-90)" text-anchor="middle" font-family='"Liberation Sans", Arial, sans-serif' font-size="7.9" fill="#111">Survival Probability</text>
<text x="237.4" y="284.5" font-family='"Liberation Sans", Arial, sans-serif' font-size="8.7" textLength="27" lengthAdjust="spacing" fill="#111">os_dur</text>
<rect x="147.5" y="294.2" width="206.8" height="10.0" fill="#fff" stroke="#cfcfcf" stroke-width="1"/>
<text x="152.0" y="302.4" font-family='"Liberation Sans", Arial, sans-serif' font-size="8.5" fill="#111">arm</text>
<line x1="180.0" x2="212.5" y1="299.5" y2="299.5" stroke="#55659f" stroke-width="0.8"/>
<text x="218.0" y="302.4" font-family='"Liberation Sans", Arial, sans-serif' font-size="8.7" textLength="36.3" lengthAdjust="spacing" fill="#111">High_risk</text>
<line x1="261.2" x2="294.5" y1="299.5" y2="299.5" stroke="#b4564a" stroke-width="0.8"/>
<text x="299.5" y="302.4" font-family='"Liberation Sans", Arial, sans-serif' font-size="8.7" textLength="51.2" lengthAdjust="spacing" fill="#111">Non_highrisk</text>
<rect x="392.8" y="50.0" width="50.4" height="10.0" fill="#fff" stroke="#d4d4d4" stroke-width="0.8"/>
<path d="M397.5 53.6V57.2M395.7 55.4H399.3" stroke="#222" stroke-width="1" fill="none"/>
<text x="402.5" y="57.8" font-family='"Liberation Sans", Arial, sans-serif' font-size="8.7" textLength="37.5" lengthAdjust="spacing" fill="#111">Censored</text></g>
<text x="9" y="340" font-family='"Liberation Serif", "Times New Roman", serif' font-size="13" fill="#222" textLength="497.8" lengthAdjust="spacing">Figure 2: Kaplan-Meier overall survival curves for the Medicare subgroup after IPTW (HRG vs</text>
<text x="9" y="353.8" font-family='"Liberation Serif", "Times New Roman", serif' font-size="13" fill="#222">NHRG)</text>
<g class="ch"><rect x="9.0" y="358.0" width="447.6" height="291.4" fill="#fff" stroke="#dcdcdc" stroke-width="1.3"/>
<text x="148.0" y="372.0" font-family='"Liberation Sans", Arial, sans-serif' font-weight="bold" font-size="10.2" textLength="208.2" lengthAdjust="spacing" fill="#000">Adjusted Product-Limit Survival Estimates</text>
<text x="195.5" y="381.3" font-family='"Liberation Sans", Arial, sans-serif' font-size="7.8" textLength="112.8" lengthAdjust="spacing" fill="#111">With 95% Hall-Wellner Bands</text>
<clipPath id="c2"><rect x="55.5" y="387.2" width="393.9" height="210.1"/></clipPath>
<g clip-path="url(#c2)">
<polygon points="78.8,391.8 85.0,391.8 85.0,392.6 93.0,392.6 93.0,395.5 99.7,395.5 99.7,396.6 105.5,396.6 105.5,397.6 110.1,397.6 110.1,398.4 116.0,398.4 116.0,399.4 120.2,399.4 120.2,399.8 126.3,399.8 126.3,400.5 131.5,400.5 131.5,401.0 136.2,401.0 136.2,401.6 142.5,401.6 142.5,402.3 150.0,402.3 150.0,403.2 154.8,403.2 154.8,404.8 160.0,404.8 160.0,406.5 163.8,406.5 163.8,407.4 169.8,407.4 169.8,408.8 175.0,408.8 175.0,410.0 181.3,410.0 181.3,411.3 187.5,411.3 187.5,412.5 192.0,412.5 192.0,414.8 200.0,414.8 200.0,418.8 205.4,418.8 205.4,419.9 208.7,419.9 208.7,420.5 215.7,420.5 215.7,421.9 220.8,421.9 220.8,423.0 225.0,423.0 225.0,423.8 230.0,423.8 230.0,425.0 233.7,425.0 233.7,425.9 240.0,425.9 240.0,427.5 244.6,427.5 244.6,428.7 250.0,428.7 250.0,430.0 256.4,430.0 256.4,431.3 258.9,431.3 258.9,431.8 266.1,431.8 266.1,433.2 271.5,433.2 271.5,434.3 275.0,434.3 275.0,435.0 281.3,435.0 281.3,436.0 287.0,436.0 287.0,437.0 290.5,437.0 290.5,437.5 297.0,437.5 297.0,438.6 304.7,438.6 304.7,440.0 308.9,440.0 308.9,440.8 316.5,440.8 316.5,442.2 320.8,442.2 320.8,443.0 327.1,443.0 327.1,444.2 329.9,444.2 329.9,444.8 336.0,444.8 336.0,446.0 341.9,446.0 341.9,446.9 347.3,446.9 347.3,447.7 349.7,447.7 349.7,448.1 356.0,448.1 356.0,449.0 356.0,455.4 360.8,455.4 360.8,455.6 367.4,455.6 367.4,455.9 370.8,455.9 370.8,456.0 378.4,456.0 378.4,456.4 381.7,456.4 381.7,456.5 388.7,456.5 388.7,456.8 393.0,456.8 393.0,457.0 393.0,514.0 390.0,514.0 390.0,504.6 365.4,504.6 365.4,500.0 356.0,500.0 356.0,489.0 356.0,488.4 351.9,488.4 351.9,487.5 345.7,487.5 345.7,486.8 341.4,486.8 341.4,486.0 336.0,486.0 336.0,484.9 332.4,484.9 332.4,482.6 324.7,482.6 324.7,481.5 320.8,481.5 320.8,479.2 316.1,479.2 316.1,475.4 308.5,475.4 308.5,473.9 302.9,473.9 302.9,472.3 296.8,472.3 296.8,471.6 291.0,471.6 291.0,470.9 286.2,470.9 286.2,469.9 278.4,469.9 278.4,469.2 273.0,469.2 273.0,467.8 268.1,467.8 268.1,466.1 262.3,466.1 262.3,464.2 255.6,464.2 255.6,463.0 251.5,463.0 251.5,462.1 246.4,462.1 246.4,460.5 238.0,460.5 238.0,459.9 234.6,459.9 234.6,458.5 227.0,458.5 227.0,457.1 222.4,457.1 222.4,455.8 218.0,455.8 218.0,453.8 211.5,453.8 211.5,452.4 205.0,452.4 205.0,451.3 199.7,451.3 199.7,450.0 193.9,450.0 193.9,449.2 190.0,449.2 190.0,447.0 185.0,447.0 185.0,445.7 178.9,445.7 178.9,444.7 174.0,444.7 174.0,443.5 168.5,443.5 168.5,442.9 160.8,442.9 160.8,442.5 155.0,442.5 155.0,438.8 147.5,438.8 147.5,437.5 140.6,437.5 140.6,436.9 137.3,436.9 137.3,435.5 130.0,435.5 130.0,434.7 124.2,434.7 124.2,433.7 117.1,433.7 117.1,433.0 112.5,433.0 78.8,433.0" fill="rgba(68,90,160,0.29)"/>
<polygon points="80.8,391.8 85.1,391.8 85.1,392.0 92.3,392.0 92.3,392.2 96.0,392.2 96.0,392.3 100.8,392.3 100.8,392.5 105.4,392.5 105.4,393.0 111.7,393.0 111.7,393.6 116.0,393.6 116.0,394.0 121.0,394.0 121.0,394.6 125.3,394.6 125.3,395.2 131.5,395.2 131.5,396.0 139.0,396.0 139.0,397.0 145.3,397.0 145.3,397.9 150.0,397.9 150.0,398.6 153.6,398.6 153.6,399.3 161.0,399.3 161.0,400.6 165.0,400.6 165.0,401.3 169.3,401.3 169.3,401.8 175.0,401.8 175.0,402.5 188.8,402.5 188.8,412.5 200.0,412.5 200.0,415.0 225.0,415.0 225.0,420.0 228.8,420.0 228.8,423.8 251.3,423.8 251.3,428.8 262.5,428.8 262.5,432.5 268.8,432.5 268.8,433.0 275.9,433.0 275.9,433.5 280.0,433.5 280.0,433.8 286.0,433.8 286.0,434.2 291.9,434.2 291.9,434.6 297.0,434.6 297.0,435.0 297.0,504.8 263.6,504.8 263.6,494.0 251.8,494.0 251.8,487.6 230.0,487.6 230.0,481.8 225.2,481.8 225.2,475.2 199.5,475.2 199.5,469.5 189.0,469.5 189.0,461.4 80.8,461.4" fill="rgba(220,60,60,0.39)"/>
<polyline points="76.2,391.8 82.5,391.8 82.5,393.8 87.5,393.8 87.5,397.5 92.5,397.5 92.5,401.3 96.2,401.3 96.2,405.0 105.0,405.0 105.0,406.3 112.5,406.3 112.5,410.0 120.0,410.0 120.0,412.5 137.5,412.5 137.5,413.8 147.5,413.8 147.5,416.3 155.0,416.3 155.0,420.0 162.5,420.0 162.5,422.0 170.0,422.0 170.0,424.5 177.0,424.5 177.0,426.2 190.0,426.2 190.0,427.5 193.7,427.5 193.7,432.5 200.0,432.5 200.0,433.8 212.0,433.8 212.0,435.5 222.5,435.5 222.5,436.3 225.0,436.3 225.0,440.0 237.5,440.0 237.5,442.5 250.0,442.5 250.0,446.2 262.5,446.2 262.5,448.7 275.0,448.7 275.0,450.5 287.5,450.5 287.5,452.5 296.8,452.5 296.8,454.6 308.5,454.6 308.5,457.0 320.8,457.0 320.8,460.0 333.0,460.0 333.0,464.6 345.4,464.6 345.4,466.0 356.0,466.0 356.0,467.7 359.0,467.7 359.0,475.4 365.4,475.4 365.4,479.4 388.5,479.4 391.0,479.4 391.0,484.0 394.6,484.0 394.6,489.2 442.3,489.2" fill="none" stroke="#55659f" stroke-width="0.8"/>
<polyline points="76.2,391.8 82.5,391.8 82.5,393.8 83.8,393.8 83.8,401.3 95.0,401.3 95.0,402.5 96.2,402.5 96.2,405.0 111.2,405.0 112.5,405.0 112.5,407.0 132.5,407.0 135.0,407.0 135.0,410.0 142.5,410.0 142.5,412.5 153.8,412.5 155.0,412.5 155.0,415.0 168.8,415.0 170.0,415.0 170.0,418.8 185.0,418.8 185.0,419.5 188.5,419.5 191.0,419.5 191.0,431.0 203.0,431.0 203.0,433.0 222.0,433.0 222.0,436.0 225.5,436.0 225.5,443.0 229.0,443.0 229.0,448.5 252.5,448.5 252.5,455.5 262.5,455.5 262.5,464.6 296.8,464.6 296.8,473.8 445.4,473.8" fill="none" stroke="#b4564a" stroke-width="0.8"/>
<path d="M76.2 389.4V394.2M74.5 391.8H77.9M85.8 391.4V396.2M84.1 393.8H87.5M94.7 398.9V403.7M93.0 401.3H96.4M98.0 402.6V407.4M96.3 405.0H99.7M105.0 403.9V408.7M103.4 406.3H106.7M108.0 403.9V408.7M106.3 406.3H109.7M109.4 403.9V408.7M107.7 406.3H111.0M113.7 407.6V412.4M112.0 410.0H115.4M113.8 407.6V412.4M112.1 410.0H115.5M115.4 407.6V412.4M113.7 410.0H117.1M117.2 407.6V412.4M115.5 410.0H118.9M119.2 407.6V412.4M117.5 410.0H120.9M120.0 407.6V412.4M118.3 410.0H121.7M126.3 410.1V414.9M124.6 412.5H128.0M127.3 410.1V414.9M125.6 412.5H129.0M130.6 410.1V414.9M128.9 412.5H132.3M131.3 410.1V414.9M129.6 412.5H133.0M134.2 410.1V414.9M132.5 412.5H135.9M136.7 410.1V414.9M135.0 412.5H138.4M137.7 411.4V416.2M136.0 413.8H139.4M143.4 411.4V416.2M141.7 413.8H145.1M144.1 411.4V416.2M142.4 413.8H145.8M144.8 411.4V416.2M143.1 413.8H146.5M145.1 411.4V416.2M143.4 413.8H146.8M145.4 411.4V416.2M143.8 413.8H147.1M148.1 413.9V418.7M146.4 416.3H149.8M148.4 413.9V418.7M146.8 416.3H150.1M153.3 413.9V418.7M151.6 416.3H155.0M155.2 417.6V422.4M153.5 420.0H156.9M157.6 417.6V422.4M156.0 420.0H159.3M158.5 417.6V422.4M156.8 420.0H160.2M159.9 417.6V422.4M158.2 420.0H161.6M161.5 417.6V422.4M159.8 420.0H163.1M165.0 419.6V424.4M163.3 422.0H166.7M166.1 419.6V424.4M164.4 422.0H167.7M168.2 419.6V424.4M166.5 422.0H169.9M168.7 419.6V424.4M167.0 422.0H170.4M170.5 422.1V426.9M168.8 424.5H172.1M171.9 422.1V426.9M170.2 424.5H173.6M172.3 422.1V426.9M170.6 424.5H174.0M183.0 423.8V428.6M181.3 426.2H184.7M187.5 423.8V428.6M185.9 426.2H189.2M187.6 423.8V428.6M186.0 426.2H189.3M190.3 425.1V429.9M188.6 427.5H192.0M193.3 425.1V429.9M191.7 427.5H195.0M193.5 425.1V429.9M191.8 427.5H195.2M193.8 430.1V434.9M192.1 432.5H195.4M195.4 430.1V434.9M193.7 432.5H197.1M195.7 430.1V434.9M194.0 432.5H197.4M196.6 430.1V434.9M194.9 432.5H198.3M203.6 431.4V436.2M201.9 433.8H205.3M205.6 431.4V436.2M203.9 433.8H207.3M206.1 431.4V436.2M204.4 433.8H207.8M208.6 431.4V436.2M206.9 433.8H210.3M210.4 431.4V436.2M208.7 433.8H212.1M210.6 431.4V436.2M208.9 433.8H212.3M211.2 431.4V436.2M209.6 433.8H212.9M211.8 431.4V436.2M210.1 433.8H213.5M212.6 433.1V437.9M210.9 435.5H214.3M212.8 433.1V437.9M211.1 435.5H214.5M213.4 433.1V437.9M211.7 435.5H215.1M214.4 433.1V437.9M212.7 435.5H216.0M214.6 433.1V437.9M212.9 435.5H216.2M214.9 433.1V437.9M213.3 435.5H216.6M215.4 433.1V437.9M213.7 435.5H217.1M220.8 433.1V437.9M219.1 435.5H222.5M222.4 433.1V437.9M220.8 435.5H224.1M224.3 433.9V438.7M222.6 436.3H226.0M226.2 437.6V442.4M224.5 440.0H227.9M226.5 437.6V442.4M224.8 440.0H228.2M227.2 437.6V442.4M225.5 440.0H228.9M228.7 437.6V442.4M227.0 440.0H230.3M229.2 437.6V442.4M227.5 440.0H230.9M230.1 437.6V442.4M228.4 440.0H231.7M231.0 437.6V442.4M229.3 440.0H232.7M231.1 437.6V442.4M229.4 440.0H232.8M231.6 437.6V442.4M230.0 440.0H233.3M233.3 437.6V442.4M231.6 440.0H234.9M233.3 437.6V442.4M231.6 440.0H235.0M235.2 437.6V442.4M233.5 440.0H236.9M235.9 437.6V442.4M234.2 440.0H237.6M236.3 437.6V442.4M234.6 440.0H237.9M237.6 440.1V444.9M235.9 442.5H239.2M242.1 440.1V444.9M240.4 442.5H243.8M244.5 440.1V444.9M242.9 442.5H246.2M245.5 440.1V444.9M243.9 442.5H247.2M263.1 446.3V451.1M261.4 448.7H264.8M263.2 446.3V451.1M261.5 448.7H264.9M263.4 446.3V451.1M261.7 448.7H265.1M265.1 446.3V451.1M263.4 448.7H266.8M270.6 446.3V451.1M268.9 448.7H272.3M271.3 446.3V451.1M269.6 448.7H273.0M272.1 446.3V451.1M270.4 448.7H273.8M273.7 446.3V451.1M272.0 448.7H275.3M277.7 448.1V452.9M276.0 450.5H279.4M279.3 448.1V452.9M277.6 450.5H281.0M280.2 448.1V452.9M278.5 450.5H281.9M280.4 448.1V452.9M278.7 450.5H282.1M280.4 448.1V452.9M278.7 450.5H282.1M287.2 448.1V452.9M285.5 450.5H288.9M288.7 450.1V454.9M287.0 452.5H290.3M288.8 450.1V454.9M287.1 452.5H290.5M291.1 450.1V454.9M289.5 452.5H292.8M291.8 450.1V454.9M290.1 452.5H293.4M292.5 450.1V454.9M290.8 452.5H294.2M292.9 450.1V454.9M291.3 452.5H294.6M294.4 450.1V454.9M292.7 452.5H296.0M294.7 450.1V454.9M293.0 452.5H296.4M295.1 450.1V454.9M293.4 452.5H296.8M296.1 450.1V454.9M294.4 452.5H297.7M296.7 450.1V454.9M295.0 452.5H298.4M297.2 452.2V457.0M295.5 454.6H298.8M299.7 452.2V457.0M298.0 454.6H301.4M300.3 452.2V457.0M298.7 454.6H302.0M302.2 452.2V457.0M300.5 454.6H303.9M303.1 452.2V457.0M301.5 454.6H304.8M303.7 452.2V457.0M302.0 454.6H305.3M305.6 452.2V457.0M304.0 454.6H307.3M307.1 452.2V457.0M305.4 454.6H308.8M316.5 454.6V459.4M314.8 457.0H318.1M317.8 454.6V459.4M316.1 457.0H319.4M321.0 457.6V462.4M319.4 460.0H322.7M322.3 457.6V462.4M320.6 460.0H323.9M322.6 457.6V462.4M320.9 460.0H324.3M323.1 457.6V462.4M321.5 460.0H324.8M323.6 457.6V462.4M321.9 460.0H325.3M324.5 457.6V462.4M322.8 460.0H326.2M324.8 457.6V462.4M323.1 460.0H326.5M328.5 457.6V462.4M326.8 460.0H330.2M328.8 457.6V462.4M327.1 460.0H330.4M329.5 457.6V462.4M327.8 460.0H331.2M330.5 457.6V462.4M328.8 460.0H332.2M332.6 457.6V462.4M330.9 460.0H334.2M334.8 462.2V467.0M333.1 464.6H336.5M338.7 462.2V467.0M337.0 464.6H340.4M342.8 462.2V467.0M341.1 464.6H344.4M344.4 462.2V467.0M342.7 464.6H346.1M354.7 463.6V468.4M353.0 466.0H356.3M355.5 463.6V468.4M353.8 466.0H357.2M357.1 465.3V470.1M355.4 467.7H358.7M364.5 473.0V477.8M362.8 475.4H366.2M366.5 477.0V481.8M364.8 479.4H368.1M367.3 477.0V481.8M365.6 479.4H368.9M367.8 477.0V481.8M366.1 479.4H369.4M368.0 477.0V481.8M366.3 479.4H369.7M369.0 477.0V481.8M367.3 479.4H370.7M369.6 477.0V481.8M367.9 479.4H371.2M370.4 477.0V481.8M368.7 479.4H372.1M372.2 477.0V481.8M370.6 479.4H373.9M374.0 477.0V481.8M372.4 479.4H375.7M380.9 477.0V481.8M379.2 479.4H382.5M382.5 477.0V481.8M380.8 479.4H384.2M382.8 477.0V481.8M381.1 479.4H384.5M383.5 477.0V481.8M381.8 479.4H385.2M384.9 477.0V481.8M383.2 479.4H386.6M385.9 477.0V481.8M384.2 479.4H387.5M386.1 477.0V481.8M384.4 479.4H387.8M386.2 477.0V481.8M384.5 479.4H387.9M396.0 486.8V491.6M394.3 489.2H397.7M397.7 486.8V491.6M396.0 489.2H399.4M416.0 486.8V491.6M414.3 489.2H417.7M419.0 486.8V491.6M417.3 489.2H420.7M420.8 486.8V491.6M419.1 489.2H422.5M423.8 486.8V491.6M422.1 489.2H425.5M433.0 486.8V491.6M431.3 489.2H434.7M437.7 486.8V491.6M436.0 489.2H439.4M439.2 486.8V491.6M437.5 489.2H440.9M440.8 486.8V491.6M439.1 489.2H442.5" stroke="#34458c" stroke-width="0.9" fill="none"/>
<path d="M91.2 398.9V403.7M89.5 401.3H92.9M97.7 402.6V407.4M96.0 405.0H99.4M101.8 402.6V407.4M100.1 405.0H103.5M104.4 402.6V407.4M102.8 405.0H106.1M105.7 402.6V407.4M104.0 405.0H107.4M109.7 402.6V407.4M108.0 405.0H111.4M116.5 404.6V409.4M114.8 407.0H118.2M126.2 404.6V409.4M124.5 407.0H127.9M133.1 404.6V409.4M131.4 407.0H134.7M133.6 404.6V409.4M132.0 407.0H135.3M136.0 407.6V412.4M134.3 410.0H137.7M136.5 407.6V412.4M134.8 410.0H138.1M140.2 407.6V412.4M138.5 410.0H141.8M146.3 410.1V414.9M144.6 412.5H148.0M153.1 410.1V414.9M151.4 412.5H154.7M153.2 410.1V414.9M151.5 412.5H154.9M163.1 412.6V417.4M161.4 415.0H164.7M168.0 412.6V417.4M166.3 415.0H169.6M172.4 416.4V421.2M170.7 418.8H174.1M178.8 416.4V421.2M177.1 418.8H180.4M184.6 416.4V421.2M183.0 418.8H186.3M189.7 417.1V421.9M188.0 419.5H191.4M191.6 428.6V433.4M189.9 431.0H193.2M201.2 428.6V433.4M199.5 431.0H202.8M204.2 430.6V435.4M202.5 433.0H205.9M206.6 430.6V435.4M204.9 433.0H208.3M215.5 430.6V435.4M213.8 433.0H217.2M222.5 433.6V438.4M220.8 436.0H224.2M224.9 433.6V438.4M223.2 436.0H226.5M226.9 440.6V445.4M225.2 443.0H228.6M234.5 446.1V450.9M232.8 448.5H236.2M240.5 446.1V450.9M238.8 448.5H242.2M242.6 446.1V450.9M240.9 448.5H244.3M255.4 453.1V457.9M253.7 455.5H257.1M257.6 453.1V457.9M256.0 455.5H259.3M262.2 453.1V457.9M260.5 455.5H263.9M262.3 453.1V457.9M260.6 455.5H263.9M263.6 462.2V467.0M261.9 464.6H265.2M271.3 462.2V467.0M269.6 464.6H273.0M271.4 462.2V467.0M269.8 464.6H273.1M277.8 462.2V467.0M276.2 464.6H279.5M291.8 462.2V467.0M290.1 464.6H293.5M293.4 462.2V467.0M291.7 464.6H295.1M294.1 462.2V467.0M292.4 464.6H295.8M294.4 462.2V467.0M292.7 464.6H296.1M303.8 471.4V476.2M302.1 473.8H305.5M314.6 471.4V476.2M312.9 473.8H316.3M317.7 471.4V476.2M316.0 473.8H319.4M337.7 471.4V476.2M336.0 473.8H339.4M346.0 471.4V476.2M344.3 473.8H347.7M383.8 471.4V476.2M382.1 473.8H385.5M397.7 471.4V476.2M396.0 473.8H399.4M403.8 471.4V476.2M402.1 473.8H405.5M405.4 471.4V476.2M403.7 473.8H407.1M410.6 471.4V476.2M408.9 473.8H412.3M413.0 471.4V476.2M411.3 473.8H414.7M443.8 471.4V476.2M442.1 473.8H445.5" stroke="#a02c26" stroke-width="0.9" fill="none"/>
</g>
<rect x="55.5" y="387.2" width="393.9" height="210.1" fill="none" stroke="#c4c4c4" stroke-width="1.15"/>
<line x1="51.5" x2="55.5" y1="592.3" y2="592.3" stroke="#c2c2c2" stroke-width="1"/>
<text x="48.9" y="594.8" text-anchor="end" font-family='"Liberation Sans", Arial, sans-serif' font-size="8.4" fill="#111">0.0</text>
<line x1="51.5" x2="55.5" y1="552.2" y2="552.2" stroke="#c2c2c2" stroke-width="1"/>
<text x="48.9" y="554.7" text-anchor="end" font-family='"Liberation Sans", Arial, sans-serif' font-size="8.4" fill="#111">0.2</text>
<line x1="51.5" x2="55.5" y1="512.2" y2="512.2" stroke="#c2c2c2" stroke-width="1"/>
<text x="48.9" y="514.7" text-anchor="end" font-family='"Liberation Sans", Arial, sans-serif' font-size="8.4" fill="#111">0.4</text>
<line x1="51.5" x2="55.5" y1="472.1" y2="472.1" stroke="#c2c2c2" stroke-width="1"/>
<text x="48.9" y="474.6" text-anchor="end" font-family='"Liberation Sans", Arial, sans-serif' font-size="8.4" fill="#111">0.6</text>
<line x1="51.5" x2="55.5" y1="432.1" y2="432.1" stroke="#c2c2c2" stroke-width="1"/>
<text x="48.9" y="434.6" text-anchor="end" font-family='"Liberation Sans", Arial, sans-serif' font-size="8.4" fill="#111">0.8</text>
<line x1="51.5" x2="55.5" y1="392.0" y2="392.0" stroke="#c2c2c2" stroke-width="1"/>
<text x="48.9" y="394.5" text-anchor="end" font-family='"Liberation Sans", Arial, sans-serif' font-size="8.4" fill="#111">1.0</text>
<line x1="76.0" x2="76.0" y1="597.3" y2="601.3" stroke="#c2c2c2" stroke-width="1"/>
<text x="76.0" y="609.5" text-anchor="middle" font-family='"Liberation Sans", Arial, sans-serif' font-size="8.4" fill="#111">0</text>
<line x1="166.8" x2="166.8" y1="597.3" y2="601.3" stroke="#c2c2c2" stroke-width="1"/>
<text x="166.8" y="609.5" text-anchor="middle" font-family='"Liberation Sans", Arial, sans-serif' font-size="8.4" fill="#111">20</text>
<line x1="257.5" x2="257.5" y1="597.3" y2="601.3" stroke="#c2c2c2" stroke-width="1"/>
<text x="257.5" y="609.5" text-anchor="middle" font-family='"Liberation Sans", Arial, sans-serif' font-size="8.4" fill="#111">40</text>
<line x1="348.2" x2="348.2" y1="597.3" y2="601.3" stroke="#c2c2c2" stroke-width="1"/>
<text x="348.2" y="609.5" text-anchor="middle" font-family='"Liberation Sans", Arial, sans-serif' font-size="8.4" fill="#111">60</text>
<line x1="439.0" x2="439.0" y1="597.3" y2="601.3" stroke="#c2c2c2" stroke-width="1"/>
<text x="439.0" y="609.5" text-anchor="middle" font-family='"Liberation Sans", Arial, sans-serif' font-size="8.4" fill="#111">80</text>
<text transform="translate(24.7 491.0) rotate(-90)" text-anchor="middle" font-family='"Liberation Sans", Arial, sans-serif' font-size="7.9" fill="#111">Survival Probability</text>
<text x="238.7" y="622.8" font-family='"Liberation Sans", Arial, sans-serif' font-size="8.7" textLength="27" lengthAdjust="spacing" fill="#111">os_dur</text>
<rect x="148.7" y="632.3" width="207.6" height="10.3" fill="#fff" stroke="#cfcfcf" stroke-width="1"/>
<text x="152.5" y="640.6" font-family='"Liberation Sans", Arial, sans-serif' font-size="8.5" fill="#111">arm</text>
<line x1="181.2" x2="213.8" y1="637.6" y2="637.6" stroke="#55659f" stroke-width="0.8"/>
<text x="218.8" y="640.6" font-family='"Liberation Sans", Arial, sans-serif' font-size="8.7" textLength="36.3" lengthAdjust="spacing" fill="#111">High_risk</text>
<line x1="262.5" x2="296.0" y1="637.6" y2="637.6" stroke="#b4564a" stroke-width="0.8"/>
<text x="301.5" y="640.6" font-family='"Liberation Sans", Arial, sans-serif' font-size="8.7" textLength="51.2" lengthAdjust="spacing" fill="#111">Non_highrisk</text>
<rect x="395.0" y="390.6" width="50.2" height="9.2" fill="#fff" stroke="#d4d4d4" stroke-width="0.8"/>
<path d="M399.8 393.6V397.2M398.0 395.4H401.6" stroke="#222" stroke-width="1" fill="none"/>
<text x="404.6" y="398.0" font-family='"Liberation Sans", Arial, sans-serif' font-size="8.7" textLength="37.5" lengthAdjust="spacing" fill="#111">Censored</text></g>
</svg>
</body></html>
